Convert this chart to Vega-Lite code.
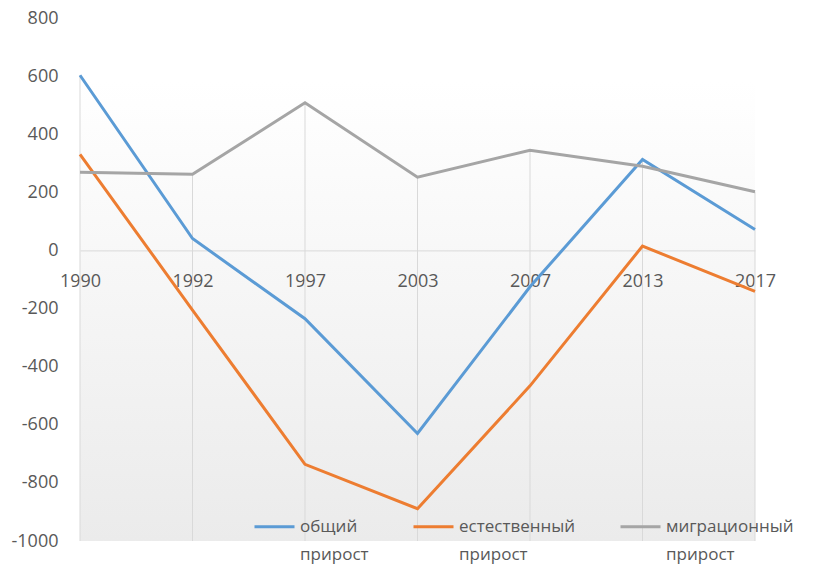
{
  "$schema": "https://vega.github.io/schema/vega-lite/v6.json",
  "width": 675,
  "height": 523,
  "autosize": {"type": "none"},
  "padding": {"left": 80, "top": 18, "right": 65, "bottom": 28},
  "background": "white",
  "config": {
    "font": "Open Sans",
    "style": {"guide-label": {"lineHeight": 28}},
    "view": {
      "stroke": null,
      "fill": {"gradient": "linear", "x1": 0, "y1": 0, "x2": 0, "y2": 1,
        "stops": [{"offset": 0, "color": "#ffffff"}, {"offset": 0.12, "color": "#ffffff"}, {"offset": 1, "color": "#ebebeb"}]}
    }
  },
  "data": {"values": [
    {"year": "1990", "series": "общий прирост", "value": 603},
    {"year": "1992", "series": "общий прирост", "value": 41},
    {"year": "1997", "series": "общий прирост", "value": -235},
    {"year": "2003", "series": "общий прирост", "value": -630},
    {"year": "2007", "series": "общий прирост", "value": -125},
    {"year": "2013", "series": "общий прирост", "value": 313},
    {"year": "2017", "series": "общий прирост", "value": 72},
    {"year": "1990", "series": "естественный прирост", "value": 331},
    {"year": "1992", "series": "естественный прирост", "value": -205},
    {"year": "1997", "series": "естественный прирост", "value": -736},
    {"year": "2003", "series": "естественный прирост", "value": -889},
    {"year": "2007", "series": "естественный прирост", "value": -466},
    {"year": "2013", "series": "естественный прирост", "value": 15},
    {"year": "2017", "series": "естественный прирост", "value": -141},
    {"year": "1990", "series": "миграционный прирост", "value": 269},
    {"year": "1992", "series": "миграционный прирост", "value": 262},
    {"year": "1997", "series": "миграционный прирост", "value": 508},
    {"year": "2003", "series": "миграционный прирост", "value": 252},
    {"year": "2007", "series": "миграционный прирост", "value": 345},
    {"year": "2013", "series": "миграционный прирост", "value": 290},
    {"year": "2017", "series": "миграционный прирост", "value": 202}
  ]},
  "encoding": {
    "x": {
      "field": "year", "type": "ordinal",
      "scale": {"type": "point", "padding": 0},
      "axis": {
        "title": null, "orient": "bottom", "offset": -290.6,
        "domainColor": "#d9d9d9", "domainWidth": 1, "ticks": false, "grid": false,
        "labelAngle": 0, "labelPadding": 22, "labelFontSize": 18, "labelColor": "#595959"
      }
    }
  },
  "layer": [
    {
      "transform": [{"aggregate": [{"op": "max", "field": "value", "as": "top"}], "groupby": ["year"]}],
      "mark": {"type": "rule", "color": "#d9d9d9", "strokeWidth": 1},
      "encoding": {
        "y": {"field": "top", "type": "quantitative", "scale": {"domain": [-1000, 800]}},
        "y2": {"datum": -1000}
      }
    },
    {
      "mark": {"type": "line", "strokeWidth": 3},
      "encoding": {
        "y": {
          "field": "value", "type": "quantitative",
          "scale": {"domain": [-1000, 800]},
          "axis": {
            "title": null, "values": [-1000, -800, -600, -400, -200, 0, 200, 400, 600, 800],
            "labelExpr": "'' + datum.value",
            "domain": false, "ticks": false, "grid": false,
            "labelPadding": 22, "labelFontSize": 18, "labelColor": "#595959"
          }
        },
        "color": {
          "field": "series", "type": "nominal",
          "scale": {"domain": ["общий прирост", "естественный прирост", "миграционный прирост"],
                    "range": ["#5B9BD5", "#ED7D31", "#A5A5A5"]},
          "legend": {
            "title": null, "orient": "none", "legendX": 173, "legendY": 487,
            "direction": "horizontal", "symbolType": "stroke", "symbolSize": 1600,
            "symbolStrokeWidth": 3, "labelExpr": "split(datum.label, ' ')",
            "labelFontSize": 17, "labelColor": "#595959", "labelLimit": 300,
            "columnPadding": 38, "labelOffset": 4
          }
        }
      }
    }
  ]
}
